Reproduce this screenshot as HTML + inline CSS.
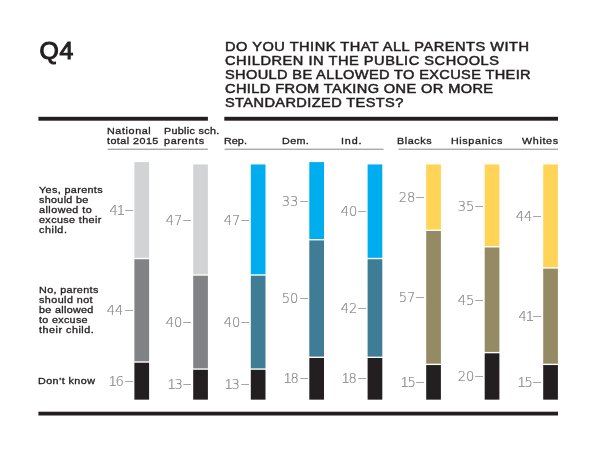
<!DOCTYPE html>
<html lang="en">
<head>
<meta charset="utf-8">
<title>Q4 – Excusing children from standardized tests</title>
<style>
html,body{margin:0;padding:0;background:#fff;}
body{width:600px;height:456px;position:relative;overflow:hidden;font-family:"Liberation Sans", sans-serif;color:#231f20;}
.t{position:absolute;white-space:pre;line-height:1;font-weight:normal;margin:0;transform-origin:0 0;}
.title{font-size:12.7px;-webkit-text-stroke:0.5px #231f20;}
.lab{font-size:9.6px;-webkit-text-stroke:0.32px #231f20;}
.q{font-size:24.8px;-webkit-text-stroke:1.1px #231f20;}
.gfx{position:absolute;left:0;top:0;}
.num{position:absolute;white-space:pre;line-height:1;font-family:"DejaVu Sans Light","DejaVu Sans","Liberation Sans",sans-serif;font-weight:200;font-size:13.6px;color:#808285;-webkit-text-stroke:0.17px #808285;text-align:right;}
.num b{font-weight:200;display:inline-block;transform:scaleX(0.96);transform-origin:100% 50%;}
.num i{font-style:normal;display:inline-block;margin-left:3.0px;transform:scaleX(1.37);transform-origin:100% 50%;position:relative;top:-1px;}
.num span{text-decoration:none;line-height:0;font-family:"Liberation Sans",sans-serif;font-weight:normal;font-size:14.4px;-webkit-text-stroke:0;color:#96989b;margin:0 -0.9px 0 -1.0px;}
</style>
</head>
<body>
<main style="position:absolute;left:0;top:0;width:600px;height:456px;will-change:transform">
<header>
<h1 class="t q" style="left:39.6px;top:39px;letter-spacing:0.5px">Q4</h1>
<h2 style="margin:0;font-size:inherit">
<span class="t title" style="left:224.5px;top:41px;letter-spacing:0.44px;transform:scaleX(1.15)">DO YOU THINK THAT ALL PARENTS WITH</span>
<span class="t title" style="left:224.5px;top:55px;letter-spacing:0.466px;transform:scaleX(1.15)">CHILDREN IN THE PUBLIC SCHOOLS</span>
<span class="t title" style="left:224.5px;top:69px;letter-spacing:0.306px;transform:scaleX(1.15)">SHOULD BE ALLOWED TO EXCUSE THEIR</span>
<span class="t title" style="left:224.5px;top:83px;letter-spacing:0.337px;transform:scaleX(1.15)">CHILD FROM TAKING ONE OR MORE</span>
<span class="t title" style="left:224.5px;top:97px;letter-spacing:0.337px;transform:scaleX(1.15)">STANDARDIZED TESTS?</span>
</h2>
</header>
<section class="colheads">
<div class="t lab" style="left:106.6px;top:126px;letter-spacing:0.545px;transform:scaleX(1.12)">National</div>
<div class="t lab" style="left:106.6px;top:136px;letter-spacing:0.405px;transform:scaleX(1.12)">total 2015</div>
<div class="t lab" style="left:164.0px;top:126px;letter-spacing:0.29px;transform:scaleX(1.12)">Public sch.</div>
<div class="t lab" style="left:164.0px;top:136px;letter-spacing:0.619px;transform:scaleX(1.12)">parents</div>
<div class="t lab" style="left:223.5px;top:136px;letter-spacing:0.06px;transform:scaleX(1.12)">Rep.</div>
<div class="t lab" style="left:282.0px;top:136px;letter-spacing:0.336px;transform:scaleX(1.12)">Dem.</div>
<div class="t lab" style="left:340.5px;top:136px;letter-spacing:0.763px;transform:scaleX(1.12)">Ind.</div>
<div class="t lab" style="left:397.4px;top:136px;letter-spacing:0.525px;transform:scaleX(1.12)">Blacks</div>
<div class="t lab" style="left:450.5px;top:136px;letter-spacing:0.537px;transform:scaleX(1.12)">Hispanics</div>
<div class="t lab" style="left:521.9px;top:136px;letter-spacing:0.581px;transform:scaleX(1.12)">Whites</div>
</section>
<section class="rowheads">
<div class="t lab" style="left:38.6px;top:185px;letter-spacing:0.346px;transform:scaleX(1.12)">Yes, parents</div>
<div class="t lab" style="left:38.6px;top:195px;letter-spacing:0.301px;transform:scaleX(1.12)">should be</div>
<div class="t lab" style="left:38.6px;top:205px;letter-spacing:0.428px;transform:scaleX(1.12)">allowed to</div>
<div class="t lab" style="left:38.6px;top:215px;letter-spacing:0.354px;transform:scaleX(1.12)">excuse their</div>
<div class="t lab" style="left:38.6px;top:225px;letter-spacing:0.501px;transform:scaleX(1.12)">child.</div>
<div class="t lab" style="left:38.6px;top:285px;letter-spacing:0.334px;transform:scaleX(1.12)">No, parents</div>
<div class="t lab" style="left:38.6px;top:295px;letter-spacing:0.397px;transform:scaleX(1.12)">should not</div>
<div class="t lab" style="left:38.6px;top:305px;letter-spacing:0.29px;transform:scaleX(1.12)">be allowed</div>
<div class="t lab" style="left:38.6px;top:315px;letter-spacing:0.289px;transform:scaleX(1.12)">to excuse</div>
<div class="t lab" style="left:38.6px;top:325px;letter-spacing:0.464px;transform:scaleX(1.12)">their child.</div>
<div class="t lab" style="left:38.1px;top:376px;letter-spacing:0.371px;transform:scaleX(1.12)">Don’t know</div>
</section>
<section class="chart">
<svg class="gfx" width="600" height="456" viewBox="0 0 600 456" aria-hidden="true">
<g fill="#231f20">
<rect x="38.4" y="116.8" width="169.5" height="3.9"/>
<rect x="224.3" y="116.8" width="333.7" height="3.9"/>
<rect x="38.4" y="411.7" width="519.6" height="3.8"/>
</g>
<g fill="#85878a">
<rect x="107.6" y="148.7" width="100.3" height="1"/>
<rect x="224.6" y="148.7" width="158.9" height="1"/>
<rect x="398.4" y="148.7" width="159.6" height="1"/>
</g>
<g>
<rect x="134.4" y="162.10" width="14.7" height="95.73" fill="#d1d3d4"/>
<rect x="134.4" y="259.23" width="14.7" height="102.09" fill="#808285"/>
<rect x="134.4" y="362.72" width="14.7" height="36.93" fill="#231f20"/>
</g>
<g>
<rect x="193.2" y="164.45" width="14.7" height="109.84" fill="#d1d3d4"/>
<rect x="193.2" y="275.69" width="14.7" height="92.68" fill="#808285"/>
<rect x="193.2" y="369.77" width="14.7" height="29.88" fill="#231f20"/>
</g>
<g>
<rect x="250.8" y="164.45" width="14.7" height="109.84" fill="#00aeef"/>
<rect x="250.8" y="275.69" width="14.7" height="92.68" fill="#3f7c96"/>
<rect x="250.8" y="369.77" width="14.7" height="29.88" fill="#231f20"/>
</g>
<g>
<rect x="309.3" y="162.10" width="14.7" height="76.92" fill="#00aeef"/>
<rect x="309.3" y="240.41" width="14.7" height="116.20" fill="#3f7c96"/>
<rect x="309.3" y="358.01" width="14.7" height="41.64" fill="#231f20"/>
</g>
<g>
<rect x="367.6" y="164.45" width="14.7" height="93.38" fill="#00aeef"/>
<rect x="367.6" y="259.23" width="14.7" height="97.38" fill="#3f7c96"/>
<rect x="367.6" y="358.01" width="14.7" height="41.64" fill="#231f20"/>
</g>
<g>
<rect x="426.2" y="164.45" width="14.7" height="65.16" fill="#ffd457"/>
<rect x="426.2" y="231.01" width="14.7" height="132.66" fill="#948a64"/>
<rect x="426.2" y="365.07" width="14.7" height="34.58" fill="#231f20"/>
</g>
<g>
<rect x="484.7" y="164.45" width="14.7" height="81.62" fill="#ffd457"/>
<rect x="484.7" y="247.47" width="14.7" height="104.44" fill="#948a64"/>
<rect x="484.7" y="353.31" width="14.7" height="46.34" fill="#231f20"/>
</g>
<g>
<rect x="543.2" y="164.45" width="14.7" height="102.79" fill="#ffd457"/>
<rect x="543.2" y="268.64" width="14.7" height="95.03" fill="#948a64"/>
<rect x="543.2" y="365.07" width="14.7" height="34.58" fill="#231f20"/>
</g>
</svg>
<div class="num" style="right:466.60px;top:204px"><b>4<span>1</span></b><i>–</i></div>
<div class="num" style="right:466.60px;top:304px"><b>44</b><i>–</i></div>
<div class="num" style="right:466.60px;top:375px"><b><span>1</span>6</b><i>–</i></div>
<div class="num" style="right:407.80px;top:214px"><b>47</b><i>–</i></div>
<div class="num" style="right:407.80px;top:316px"><b>40</b><i>–</i></div>
<div class="num" style="right:407.80px;top:378px"><b><span>1</span>3</b><i>–</i></div>
<div class="num" style="right:350.20px;top:214px"><b>47</b><i>–</i></div>
<div class="num" style="right:350.20px;top:316px"><b>40</b><i>–</i></div>
<div class="num" style="right:350.20px;top:378px"><b><span>1</span>3</b><i>–</i></div>
<div class="num" style="right:291.70px;top:195px"><b>33</b><i>–</i></div>
<div class="num" style="right:291.70px;top:292px"><b>50</b><i>–</i></div>
<div class="num" style="right:291.70px;top:372px"><b><span>1</span>8</b><i>–</i></div>
<div class="num" style="right:233.40px;top:205px"><b>40</b><i>–</i></div>
<div class="num" style="right:233.40px;top:302px"><b>42</b><i>–</i></div>
<div class="num" style="right:233.40px;top:372px"><b><span>1</span>8</b><i>–</i></div>
<div class="num" style="right:174.80px;top:191px"><b>28</b><i>–</i></div>
<div class="num" style="right:174.80px;top:291px"><b>57</b><i>–</i></div>
<div class="num" style="right:174.80px;top:376px"><b><span>1</span>5</b><i>–</i></div>
<div class="num" style="right:116.30px;top:200px"><b>35</b><i>–</i></div>
<div class="num" style="right:116.30px;top:294px"><b>45</b><i>–</i></div>
<div class="num" style="right:116.30px;top:370px"><b>20</b><i>–</i></div>
<div class="num" style="right:57.80px;top:210px"><b>44</b><i>–</i></div>
<div class="num" style="right:57.80px;top:310px"><b>4<span>1</span></b><i>–</i></div>
<div class="num" style="right:57.80px;top:376px"><b><span>1</span>5</b><i>–</i></div>
</section>
</main>
</body>
</html>
